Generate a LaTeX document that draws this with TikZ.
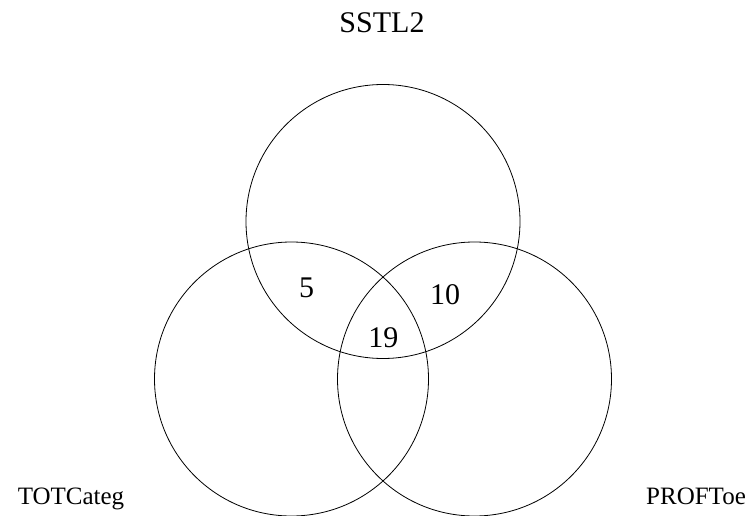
\documentclass[tikz,border=0pt]{standalone}
\usepackage{fontspec}
\setmainfont{Liberation Serif}
\begin{document}
\begin{tikzpicture}[x=1pt,y=1pt,
  venn/.style={draw=black,line width=0.8pt,circle,minimum size=274pt,inner sep=0pt},
  bigtxt/.style={font=\fontsize{30}{34}\selectfont,inner sep=0pt},
  lbltxt/.style={font=\fontsize{25}{29}\selectfont,inner sep=0pt,anchor=base}]
\useasboundingbox (0,0) rectangle (753,515);
\clip (0,0) rectangle (753,515);
\node[venn] (top) at (383,293.5) {};
\node[venn] (left) at (291.5,136) {};
\node[venn] (right) at (474.5,136) {};
\node[bigtxt,anchor=base] (title) at (382,482) {SSTL2};
\node[lbltxt] (ltot) at (71,11) {TOTCateg};
\node[lbltxt] (lprof) at (696,11) {PROFToe};
\node[bigtxt] (n5) at (306.7,226.7) {5};
\node[bigtxt] (n10) at (445,220) {10};
\node[bigtxt] (n19) at (383.3,177.7) {19};
\end{tikzpicture}
\end{document}
